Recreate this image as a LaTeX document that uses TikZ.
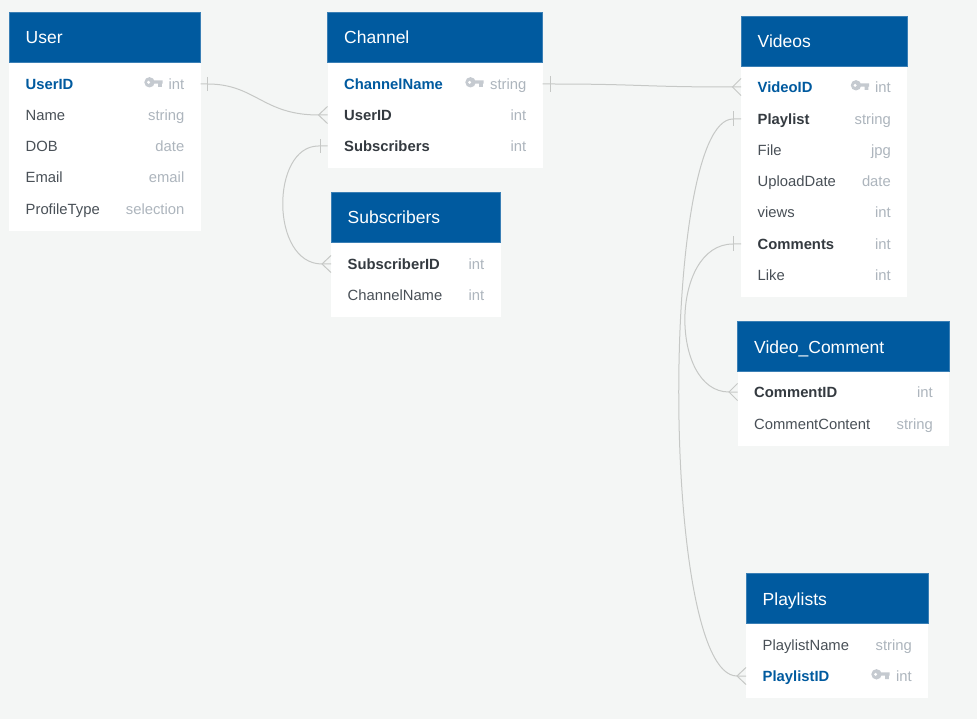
\documentclass[tikz,border=0pt]{standalone}
\usepackage{fontspec}
\setmainfont{Liberation Sans}
\definecolor{pagebg}{HTML}{F4F6F5}
\definecolor{headblue}{HTML}{005A9F}
\definecolor{headedge}{HTML}{3A7FB5}
\definecolor{keyblue}{HTML}{005A9F}
\definecolor{strongtext}{HTML}{343A40}
\definecolor{plaintext}{HTML}{495057}
\definecolor{typetext}{HTML}{ADB5BD}
\definecolor{keygrey}{HTML}{C5CAD0}
\definecolor{linkgrey}{HTML}{C6C8C6}
\tikzset{
  x=1pt, y=-1pt,
  headbox/.style={rectangle, draw=headedge, line width=0.6pt, fill=headblue, inner sep=0pt, outer sep=0pt, anchor=north west},
  bodybox/.style={rectangle, fill=white, inner sep=0pt, outer sep=0pt, anchor=north west},
  headtext/.style={text=white, inner sep=0pt, anchor=base west, font=\fontsize{17.5}{20}\selectfont},
  rowslot/.style={rectangle, inner sep=0pt, outer sep=0pt, minimum height=31pt},
  plainname/.style={text=plaintext, inner sep=0pt, anchor=base west, font=\fontsize{14.8}{18}\selectfont},
  strongname/.style={text=strongtext, inner sep=0pt, anchor=base west, font=\fontsize{14.8}{18}\selectfont\bfseries},
  keyname/.style={text=keyblue, inner sep=0pt, anchor=base west, font=\fontsize{14.8}{18}\selectfont\bfseries},
  typename/.style={text=typetext, inner sep=0pt, anchor=base east, font=\fontsize{14.8}{18}\selectfont},
  link/.style={draw=linkgrey, line width=1pt},
}
% name, x1, x2, ytop, ybottom, title
\newcommand{\erbox}[6]{%
  \node[bodybox, minimum width=#3-#2, minimum height=#5-#4] (#1-body) at (#2,#4) {};
  \node[headbox, minimum width=#3-#2, minimum height=50pt] (#1) at (#2,#4) {};
  \node[headtext] (#1-title) at (#2+16.5,#4+32) {#6};
}
% name, x1, x2, y, name style, text, type
\newcommand{\erfield}[7]{%
  \node[rowslot, minimum width=#3-#2, anchor=center] (#1) at ({(#2+#3)/2},#4) {};
  \node[#5] (#1-name) at (#2+16.5,#4+5.6) {#6};
  \node[typename] (#1-type) at (#3-16,#4+5.6) {#7};
}
% left x, row y
\newcommand{\erkey}[2]{%
  \fill[keygrey, even odd rule, shift={(#1,#2)}]
    (5.5,-1.7) circle (5.2) (4.6,-1.7) circle (1.9);
  \fill[keygrey, shift={(#1,#2)}]
    (9.5,-3.6) -- (18.7,-3.6) -- (18.7,-0.3) -- (17.8,-0.3) -- (17.8,3) -- (14,3) -- (14,-0.3) -- (9.5,-0.3) -- cycle;
}
\begin{document}
\begin{tikzpicture}
\useasboundingbox (0,0) rectangle (977,719);
\fill[pagebg] (0,0) rectangle (977,719);

% User
\erbox{user}{9}{200.5}{12}{231}{User}
\erfield{userUserID}{9}{200.5}{84}{keyname}{UserID}{int}
\erfield{userName}{9}{200.5}{115}{plainname}{Name}{string}
\erfield{userDOB}{9}{200.5}{146}{plainname}{DOB}{date}
\erfield{userEmail}{9}{200.5}{177}{plainname}{Email}{email}
\erfield{userProfile}{9}{200.5}{209}{plainname}{ProfileType}{selection}
\erkey{144}{84}

% Channel
\erbox{channel}{327.5}{542.5}{12}{168}{Channel}
\erfield{chName}{327.5}{542.5}{84}{keyname}{ChannelName}{string}
\erfield{chUser}{327.5}{542.5}{115}{strongname}{UserID}{int}
\erfield{chSubs}{327.5}{542.5}{146}{strongname}{Subscribers}{int}
\erkey{465}{84}

% Subscribers
\erbox{subs}{331}{500.5}{192}{317}{Subscribers}
\erfield{subsID}{331}{500.5}{264}{strongname}{SubscriberID}{int}
\erfield{subsChannel}{331}{500.5}{295}{plainname}{ChannelName}{int}

% Videos
\erbox{videos}{741}{907}{16}{297}{Videos}
\erfield{vidID}{741}{907}{87}{keyname}{VideoID}{int}
\erfield{vidPlaylist}{741}{907}{119}{strongname}{Playlist}{string}
\erfield{vidFile}{741}{907}{150}{plainname}{File}{jpg}
\erfield{vidDate}{741}{907}{181}{plainname}{UploadDate}{date}
\erfield{vidViews}{741}{907}{212}{plainname}{views}{int}
\erfield{vidComments}{741}{907}{244}{strongname}{Comments}{int}
\erfield{vidLike}{741}{907}{275}{plainname}{Like}{int}
\erkey{850.5}{87}

% Video_Comment
\erbox{vcomment}{737.5}{949}{321}{446}{Video\_Comment}
\erfield{vcID}{737.5}{949}{392}{strongname}{CommentID}{int}
\erfield{vcContent}{737.5}{949}{424}{plainname}{CommentContent}{string}

% Playlists
\erbox{playlists}{746}{928}{573.5}{698}{Playlists}
\erfield{plName}{746}{928}{645}{plainname}{PlaylistName}{string}
\erfield{plID}{746}{928}{676}{keyname}{PlaylistID}{int}
\erkey{871}{676}

% Connectors
\draw[link] (userUserID.east) -- ([xshift=7]userUserID.east)
  .. controls ([xshift=55]userUserID.east) and ([xshift=-65]chUser.west) .. ([xshift=-9]chUser.west) -- (chUser.west);
\draw[link] ([xshift=7,yshift=7]userUserID.east) -- ([xshift=7,yshift=-7]userUserID.east);
\draw[link] ([yshift=8.5]chUser.west) -- ([xshift=-9]chUser.west) -- ([yshift=-8.5]chUser.west);

\draw[link] (chSubs.west) -- ([xshift=-9]chSubs.west)
  .. controls ([xshift=-57]chSubs.west) and ([xshift=-61]subsID.west) .. ([xshift=-9]subsID.west) -- (subsID.west);
\draw[link] ([xshift=-7,yshift=7]chSubs.west) -- ([xshift=-7,yshift=-7]chSubs.west);
\draw[link] ([yshift=8.5]subsID.west) -- ([xshift=-9]subsID.west) -- ([yshift=-8.5]subsID.west);

\draw[link] (chName.east) -- ([xshift=8]chName.east)
  .. controls ([xshift=98]chName.east) and ([xshift=-100]vidID.west) .. ([xshift=-8.5]vidID.west) -- (vidID.west);
\draw[link] ([xshift=8,yshift=8]chName.east) -- ([xshift=8,yshift=-8]chName.east);
\draw[link] ([yshift=8.5]vidID.west) -- ([xshift=-8.5]vidID.west) -- ([yshift=-8.5]vidID.west);

\draw[link] (vidPlaylist.west) -- ([xshift=-8]vidPlaylist.west)
  .. controls ([xshift=-81]vidPlaylist.west) and ([xshift=-86]plID.west) .. ([xshift=-9]plID.west) -- (plID.west);
\draw[link] ([xshift=-8,yshift=7.5]vidPlaylist.west) -- ([xshift=-8,yshift=-7.5]vidPlaylist.west);
\draw[link] ([yshift=8.5]plID.west) -- ([xshift=-9]plID.west) -- ([yshift=-8.5]plID.west);

\draw[link] (vidComments.west) -- ([xshift=-8]vidComments.west)
  .. controls ([xshift=-71.5]vidComments.west) and ([xshift=-68]vcID.west) .. ([xshift=-8.5]vcID.west) -- (vcID.west);
\draw[link] ([xshift=-8,yshift=7.5]vidComments.west) -- ([xshift=-8,yshift=-7.5]vidComments.west);
\draw[link] ([yshift=8.5]vcID.west) -- ([xshift=-8.5]vcID.west) -- ([yshift=-8.5]vcID.west);
\end{tikzpicture}
\end{document}
